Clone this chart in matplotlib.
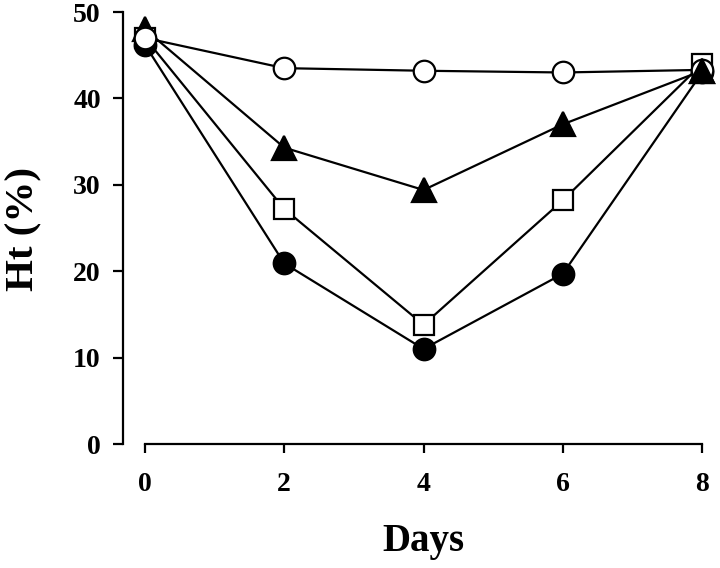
import matplotlib
matplotlib.use("Agg")
import matplotlib.pyplot as plt

plt.rcParams['font.family'] = ['Liberation Serif', 'DejaVu Serif']
plt.rcParams['font.weight'] = 'bold'

# Hematocrit over time, four groups
days = [0, 2, 4, 6, 8]
ht_open_circle = [47.0, 43.5, 43.2, 43.0, 43.3]
ht_triangle = [48.0, 34.3, 29.4, 37.0, 43.2]
ht_square = [47.0, 27.2, 13.8, 28.2, 44.0]
ht_filled_circle = [46.2, 20.9, 11.0, 19.7, 43.0]

yticks = [0, 10, 20, 30, 40, 50]
xticks = [0, 2, 4, 6, 8]

W, H = 720, 568
fig = plt.figure(figsize=(7.2, 5.68), dpi=100)
ax = fig.add_axes([123 / W, (H - 444) / H, 593 / W, 432 / H])

common = dict(color='black', linewidth=1.6, markeredgewidth=1.6,
              markeredgecolor='black', clip_on=False)

ax.plot(days, ht_square, marker='s', markersize=15, markerfacecolor='white',
        zorder=3, **common)
ax.plot(days, ht_filled_circle, marker='o', markersize=15.5,
        markerfacecolor='black', zorder=4, **common)
ax.plot(days, ht_triangle, marker='^', markersize=17, markerfacecolor='black',
        zorder=5, **common)
ax.plot(days, ht_open_circle, marker='o', markersize=15.5,
        markerfacecolor='white', zorder=6, **common)
# at day 8 the triangle sits on top of the open circle
ax.plot(days[-1:], ht_triangle[-1:], marker='^', markersize=17,
        markerfacecolor='black', markeredgecolor='black', markeredgewidth=1.6,
        linestyle='none', clip_on=False, zorder=7)

ax.set_xlim(-0.316, 8.2)
ax.set_ylim(0, 50)
ax.set_xticks(xticks)
ax.set_yticks(yticks)
ax.spines['top'].set_visible(False)
ax.spines['right'].set_visible(False)
ax.spines['left'].set_bounds(0, 50)
ax.spines['bottom'].set_bounds(0, 8)
for s in ('left', 'bottom'):
    ax.spines[s].set_linewidth(1.6)

ax.tick_params(axis='y', direction='out', length=7, width=1.6, pad=9,
               labelsize=20)
ax.tick_params(axis='x', direction='out', length=6.5, width=1.6, pad=14,
               labelsize=20)
for lab in ax.get_xticklabels() + ax.get_yticklabels():
    lab.set_fontweight('bold')

fig.text(423 / W, 1 - 541 / H, 'Days', ha='center', va='center',
         fontsize=28, fontweight='bold')
fig.text(24 / W, 1 - 229 / H, 'Ht (%)', ha='center', va='center',
         rotation=90, fontsize=29.5, fontweight='bold')

fig.savefig('out.png', dpi=100)
